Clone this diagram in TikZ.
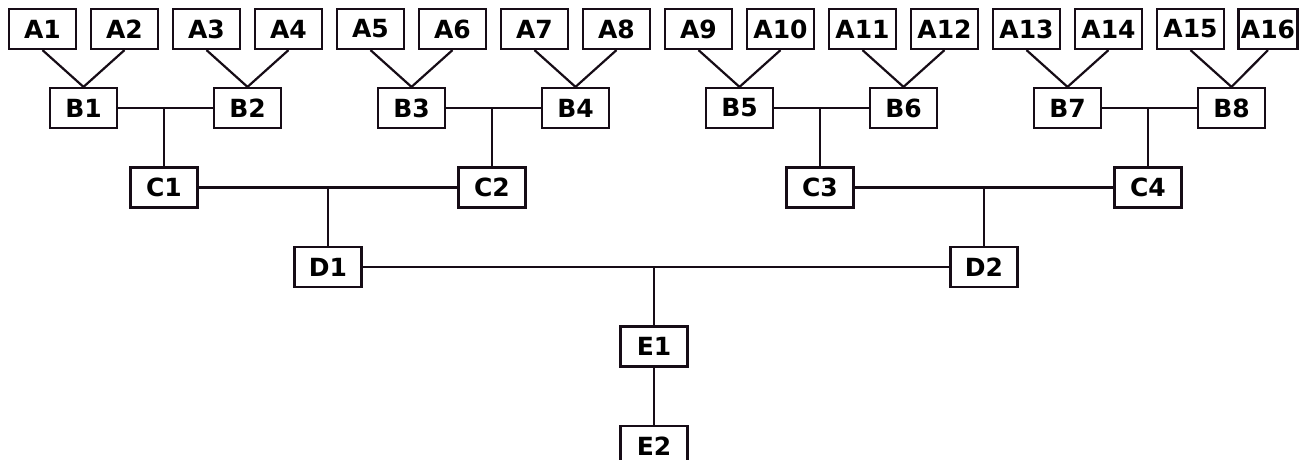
\documentclass[tikz,border=0pt]{standalone}
\usepackage{fontspec}
\setmainfont{DejaVu Sans}
\usetikzlibrary{calc}
\definecolor{ink}{RGB}{22,12,22}
\begin{document}
\begin{tikzpicture}[x=1pt,y=-1pt,
  box/.style={draw=ink, line width=2.2pt, fill=white, minimum width=67pt, minimum height=40pt,
    inner sep=0pt, font=\fontsize{25}{25}\selectfont\bfseries},
  link/.style={draw=ink, line width=2.2pt}]
\useasboundingbox (0,0) rectangle (1306,460);
\fill[white] (0,0) rectangle (1306,460);
\clip (0,0) rectangle (1306,460);
% level A
\foreach \k in {1,...,15} \node[box] (A\k) at ({42.5+82*(\k-1)},29) {A\k};
\node[box, minimum width=59pt] (A16) at (1268,29) {A16};
% level B
\foreach \j in {1,...,8} \node[box] (B\j) at ({83.5+164*(\j-1)},108) {B\j};
% level C
\foreach \i in {1,...,4} \node[box] (C\i) at ({164+328*(\i-1)},187.5) {C\i};
% level D, E
\node[box] (D1) at (328,267) {D1};
\node[box] (D2) at (984,267) {D2};
\node[box] (E1) at (654,346.5) {E1};
\node[box] (E2) at (654,446) {E2};
% links A-B
\foreach \j in {1,...,8} {
  \pgfmathtruncatemacro\ka{2*\j-1}
  \pgfmathtruncatemacro\kb{2*\j}
  \draw[link] (A\ka.south) -- (B\j.north);
  \draw[link] (A\kb.south) -- (B\j.north);
}
% links B-C
\foreach \i in {1,...,4} {
  \pgfmathtruncatemacro\ba{2*\i-1}
  \pgfmathtruncatemacro\bb{2*\i}
  \draw[link] (B\ba.east) -- (B\bb.west);
  \draw[link] (C\i.north) -- (C\i.north |- B\ba.east);
}
% links C-D
\draw[link] (C1.east) -- (C2.west);
\draw[link] (D1.north) -- (D1.north |- C1.east);
\draw[link] (C3.east) -- (C4.west);
\draw[link] (D2.north) -- (D2.north |- C3.east);
% links D-E
\draw[link] (D1.east) -- (D2.west);
\draw[link] (E1.north) -- (E1.north |- D1.east);
\draw[link] (E1.south) -- (E2.north);
\end{tikzpicture}
\end{document}
